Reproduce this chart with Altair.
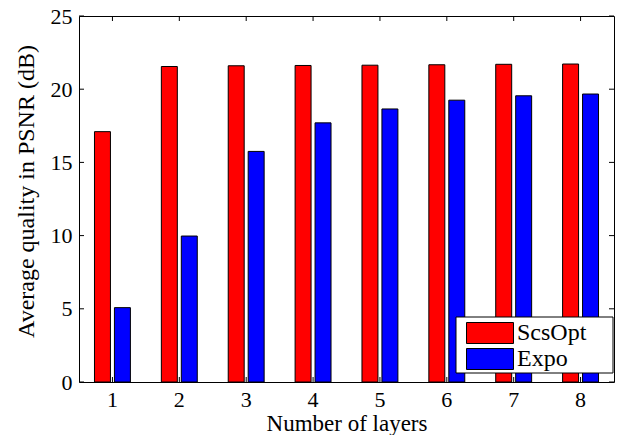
import altair as alt
import pandas as pd

# ---- data ----
layers = ["1", "2", "3", "4", "5", "6", "7", "8"]
series = ["ScsOpt", "Expo"]
scsopt = [17.10, 21.55, 21.60, 21.62, 21.64, 21.67, 21.70, 21.72]
expo = [5.08, 9.97, 15.75, 17.70, 18.65, 19.25, 19.55, 19.67]
colors = ["#ff0000", "#0000ff"]
y_ticks = [0, 5, 10, 15, 20, 25]

W, H = 535, 366
FONT = "'Liberation Serif', 'Times New Roman', 'DejaVu Serif', serif"

rows = []
for i, l in enumerate(layers):
    rows.append({"layer": l, "series": series[0], "value": scsopt[i]})
    rows.append({"layer": l, "series": series[1], "value": expo[i]})
df = pd.DataFrame(rows)
df_layers = pd.DataFrame({"layer": layers})
df_yticks = pd.DataFrame({"value": y_ticks})
df_box = pd.DataFrame({"k": [0]})

xscale = alt.Scale(domain=layers, paddingInner=0, paddingOuter=0)
yscale = alt.Scale(domain=[0, 25], nice=False, zero=True)

xaxis = alt.Axis(
    title="Number of layers", labelAngle=0, ticks=False, tickSize=0, domain=False,
    grid=False, labelFont=FONT, labelFontSize=22, labelColor="black",
    labelPadding=24, labelBaseline="alphabetic",
    titleFont=FONT, titleFontSize=23, titleFontWeight="normal", titleColor="black",
    titleBaseline="alphabetic", titleY=48,
)
yaxis = alt.Axis(
    title="Average quality in PSNR (dB)", values=y_ticks, ticks=False, tickSize=0,
    domain=False, grid=False, labelFont=FONT, labelFontSize=22, labelColor="black",
    labelPadding=7, titleFont=FONT, titleFontSize=24, titleFontWeight="normal",
    titleColor="black", titleAngle=-90, titleBaseline="middle", titleAlign="center",
    titleX=-53, titleY=175,
)

X = alt.X("layer:N", scale=xscale, axis=xaxis, sort=layers)
Y = alt.Y("value:Q", scale=yscale, axis=yaxis)

bars = alt.Chart(df).mark_bar(stroke="black", strokeWidth=1).encode(
    x=X,
    y=Y,
    xOffset=alt.XOffset("series:N", sort=series,
                        scale=alt.Scale(domain=series, paddingInner=0.2, paddingOuter=0.775)),
    color=alt.Color(
        "series:N", sort=series,
        scale=alt.Scale(domain=series, range=colors),
        legend=alt.Legend(
            title=None, orient="none", legendX=W - 153, legendY=301,
            symbolType="M-1,-1H3.476V1H-1Z", symbolSize=441,
            symbolStrokeColor="black", symbolStrokeWidth=1, symbolOpacity=1,
            labelFont=FONT, labelFontSize=24, labelColor="black", labelOffset=28,
            padding=4, rowPadding=0,
        ),
    ),
)

# legend frame (white box with black border, as in the reference)
legend_box = alt.Chart(df_box).mark_rect(fill="white", stroke="black", strokeWidth=1).encode(
    x=alt.value(W - 158), x2=alt.value(W - 1), y=alt.value(301), y2=alt.value(357))

bottom_ticks = alt.Chart(df_layers).mark_rule(color="black", strokeWidth=1).encode(
    x=X, y=alt.value(H - 5), y2=alt.value(H))
top_ticks = alt.Chart(df_layers).mark_rule(color="black", strokeWidth=1).encode(
    x=X, y=alt.value(0), y2=alt.value(5))
left_ticks = alt.Chart(df_yticks).mark_rule(color="black", strokeWidth=1).encode(
    y=Y, x=alt.value(0), x2=alt.value(5))
right_ticks = alt.Chart(df_yticks).mark_rule(color="black", strokeWidth=1).encode(
    y=Y, x=alt.value(W - 5), x2=alt.value(W))

chart = alt.layer(bottom_ticks, bars, top_ticks, left_ticks, right_ticks, legend_box).properties(
    width=W, height=H,
    autosize=alt.AutoSizeParams(type="none"),
    padding={"left": 71, "top": 8, "right": 1, "bottom": 53},
    background="white",
).configure_view(stroke="black", strokeWidth=1)

chart.save("out.html", embed_options={"renderer": "svg", "actions": False})
